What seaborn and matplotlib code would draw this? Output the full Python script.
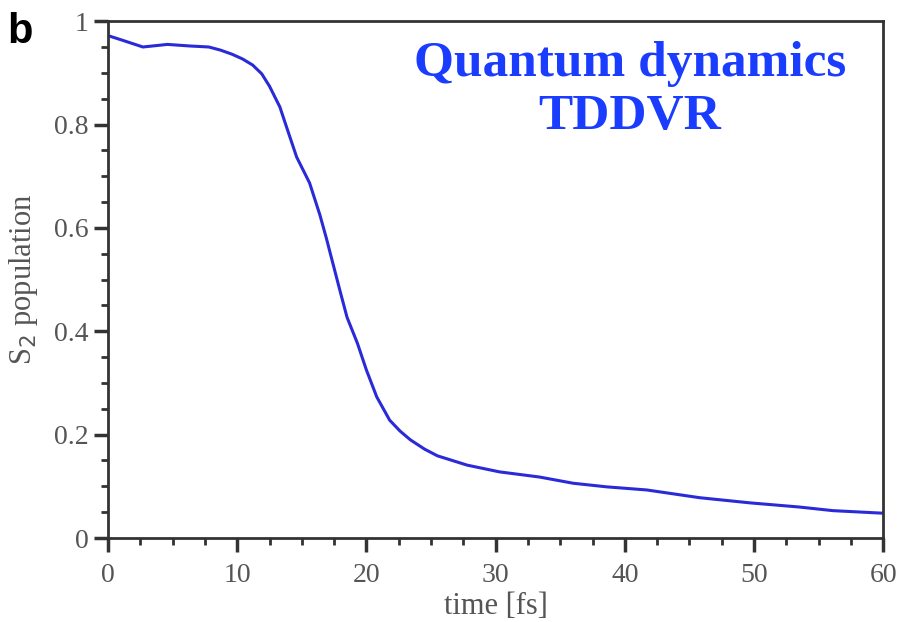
import numpy as np
import pandas as pd
import matplotlib
matplotlib.use("Agg")
import matplotlib.pyplot as plt
import seaborn as sns
from matplotlib.ticker import MultipleLocator

# S2 population vs time
time_fs = [0.0, 1.0, 2.7, 4.6, 6.3, 7.8, 8.7, 9.6, 10.4, 11.2, 11.9, 12.5, 13.3,
           13.9, 14.6, 15.6, 16.4, 16.9, 17.2, 18.0, 18.5, 19.3, 20.0, 20.8,
           21.8, 22.6, 23.4, 24.5, 25.5, 27.8, 30.3, 33.4, 36.0, 38.6, 41.7,
           45.8, 49.7, 53.5, 56.1, 60.0]
s2_pop = [0.972, 0.964, 0.950, 0.955, 0.952, 0.950, 0.944, 0.936, 0.927, 0.915,
          0.898, 0.874, 0.834, 0.789, 0.737, 0.687, 0.625, 0.580, 0.551, 0.474,
          0.427, 0.377, 0.325, 0.273, 0.228, 0.207, 0.190, 0.172, 0.159, 0.141,
          0.128, 0.118, 0.106, 0.099, 0.093, 0.078, 0.068, 0.060, 0.053, 0.048]

df = pd.DataFrame({"time": time_fs, "pop": s2_pop})

sns.set_style("ticks")
plt.rcParams['font.family'] = ['Liberation Serif', 'DejaVu Serif']

fig = plt.figure(figsize=(9.04, 6.22), dpi=100)
ax = fig.add_axes([0.1195, 0.135, 0.8575, 0.831])

sns.lineplot(data=df, x="time", y="pop", ax=ax, color="#2a2ad8", linewidth=2.2)

ax.set_xlim(0, 60)
ax.set_ylim(0, 1)
ax.xaxis.set_major_locator(MultipleLocator(10))
ax.xaxis.set_minor_locator(MultipleLocator(2.5))
ax.yaxis.set_minor_locator(MultipleLocator(0.05))
ax.set_yticks([0, 0.2, 0.4, 0.6, 0.8, 1.0])
ax.set_yticklabels(["0", "0.2", "0.4", "0.6", "0.8", "1"])

ax.tick_params(which="major", direction="out", length=10, width=2.5, colors="#333333",
               labelsize=20, labelcolor="#555555", pad=4)
ax.tick_params(axis="x", which="major", pad=8)
ax.tick_params(which="minor", direction="out", length=5, width=2, colors="#333333")
for side in ["left", "bottom", "top", "right"]:
    ax.spines[side].set_visible(True)
    ax.spines[side].set_color("#333333")
    ax.spines[side].set_linewidth(2)

ax.set_xlabel("time [fs]", fontsize=22, color="#555555", labelpad=3)
ax.set_ylabel("S$_2$ population", fontsize=22, color="#555555", labelpad=10)

ax.text(0.673, 0.962, "Quantum dynamics\nTDDVR", transform=ax.transAxes,
        ha="center", va="top", fontsize=37, fontweight="bold", color="#1a3cff",
        linespacing=1.22)
fig.text(0.008, 0.98, "b", fontsize=30, fontweight="bold", family="Liberation Sans",
         color="black", va="top")

fig.savefig("out.png", dpi=100)
